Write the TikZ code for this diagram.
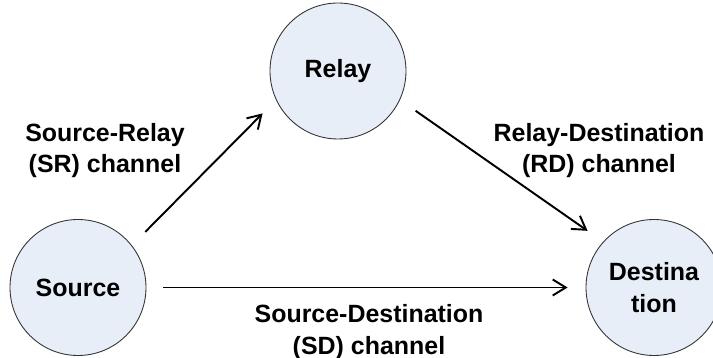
\documentclass[tikz,border=0pt]{standalone}
\usepackage{fontspec}
\setmainfont{Liberation Sans}
\usetikzlibrary{arrows.meta}
\definecolor{nodefill}{RGB}{231,238,248}
\begin{document}
\begin{tikzpicture}[
    station/.style={circle, draw=black!80, line width=0.5pt, fill=nodefill,
        minimum size=2.72cm, inner sep=0pt, align=center,
        font=\fontsize{14.2}{18}\selectfont\bfseries},
    chan/.style={-{Straight Barb[length=2.6mm,width=3.2mm]}, line width=1.1pt,
        shorten <=0.38cm, shorten >=0.38cm},
    lbl/.style={align=center, font=\fontsize{14.2}{18}\selectfont\bfseries}]
    \useasboundingbox (0,0) rectangle (14.26,7.16);
    %nodes
    \node[station] (src) at (1.56,1.41) {Source};
    \node[station] (rly) at (6.76,5.74) {Relay};
    \node[station] (dst) at (13.08,1.41) {Destina\\tion};
    %channels
    \draw[chan] (src.38) -- (rly.205);
    \draw[chan] (rly.335) -- (dst.138);
    \draw[chan, shorten <=0.34cm, shorten >=0.36cm] (src.east) -- (dst.west);
    %labels
    \node[lbl] (sr) at (2.10,4.15) {Source-Relay\\(SR) channel};
    \node[lbl] (rd) at (11.98,4.15) {Relay-Destination\\(RD) channel};
    \node[lbl] (sd) at (7.38,0.52) {Source-Destination\\(SD) channel};
\end{tikzpicture}
\end{document}
